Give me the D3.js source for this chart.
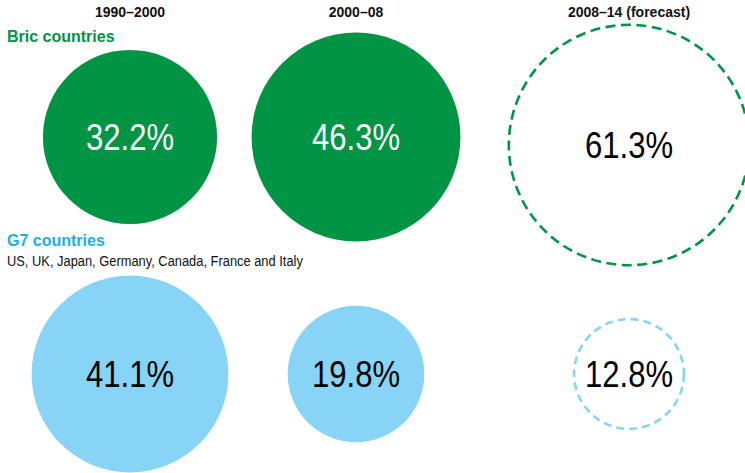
<!DOCTYPE html>
<html>
<head>
<meta charset="utf-8">
<script src="https://cdn.jsdelivr.net/npm/d3@7"></script>
<style>
  body { margin: 0; background: #fff; }
  text { font-family: "Liberation Sans", Arial, sans-serif; }
  .pct { font-size: 37px; }
</style>
</head>
<body>
<div id="chart"></div>
<script>
// growth share, per period
var periods = ["1990–2000", "2000–08", "2008–14 (forecast)"];
var bricValues = [32.2, 46.3, 61.3];
var g7Values = [41.1, 19.8, 12.8];
var isForecast = [false, false, true];

var svgWidth = 745;
var svgHeight = 473;

var green = "#009444";
var blueFill = "#87d4f6";
var blueText = "#1bb0e6";

var svg = d3
  .select("#chart")
  .append("svg")
  .attr("width", svgWidth)
  .attr("height", svgHeight);

// column centres
var xScale = d3.scaleOrdinal().domain(periods).range([130, 356, 629]);
// circle area follows the value
var rScale = d3.scaleSqrt().domain([0, 100]).range([0, 153.5]);

// column headers
svg
  .append("g")
  .selectAll("text")
  .data(periods)
  .enter()
  .append("text")
  .attr("x", (d) => xScale(d))
  .attr("y", 17)
  .attr("text-anchor", "middle")
  .attr("font-size", 14)
  .attr("font-weight", "bold")
  .attr("fill", "#111")
  .text((d) => d);

// group labels
svg.append("text")
  .attr("x", 7)
  .attr("y", 42)
  .attr("font-size", 16)
  .attr("font-weight", "bold")
  .attr("fill", green)
  .text("Bric countries");

svg.append("text")
  .attr("x", 7)
  .attr("y", 246)
  .attr("font-size", 16)
  .attr("font-weight", "bold")
  .attr("fill", blueText)
  .text("G7 countries");

svg.append("text")
  .attr("transform", "translate(7,266) scale(0.92,1)")
  .attr("font-size", 14)
  .attr("fill", "#111")
  .text("US, UK, Japan, Germany, Canada, France and Italy");

function drawRow(values, cy, forecastShift, fillColor, textColor, dash) {
  var rows = periods.map((p, i) => ({
    period: p,
    value: values[i],
    forecast: isForecast[i],
  }));

  var g = svg.append("g");

  g.selectAll("circle")
    .data(rows)
    .enter()
    .append("circle")
    .attr("cx", (d) => xScale(d.period))
    .attr("cy", (d) => (d.forecast ? cy + forecastShift : cy))
    .attr("r", (d) => rScale(d.value))
    .attr("fill", (d) => (d.forecast ? "none" : fillColor))
    .attr("stroke", (d) => (d.forecast ? fillColor : "none"))
    .attr("stroke-width", 2.6)
    .attr("stroke-dasharray", dash);

  // condensed look: squeeze the numbers horizontally
  g.selectAll("text")
    .data(rows)
    .enter()
    .append("text")
    .attr("class", "pct")
    .attr("transform", (d) =>
      `translate(${xScale(d.period)}, ${d.forecast ? cy + forecastShift : cy}) scale(0.84, 1)`
    )
    .attr("dy", "0.36em")
    .attr("text-anchor", "middle")
    .attr("fill", (d) => (d.forecast ? "#000" : textColor))
    .text((d) => d.value.toFixed(1) + "%");
}

drawRow(bricValues, 137, 8, green, "#fff", "10,5.5");
drawRow(g7Values, 374, 0, blueFill, "#000", "8,5");
</script>
</body>
</html>
